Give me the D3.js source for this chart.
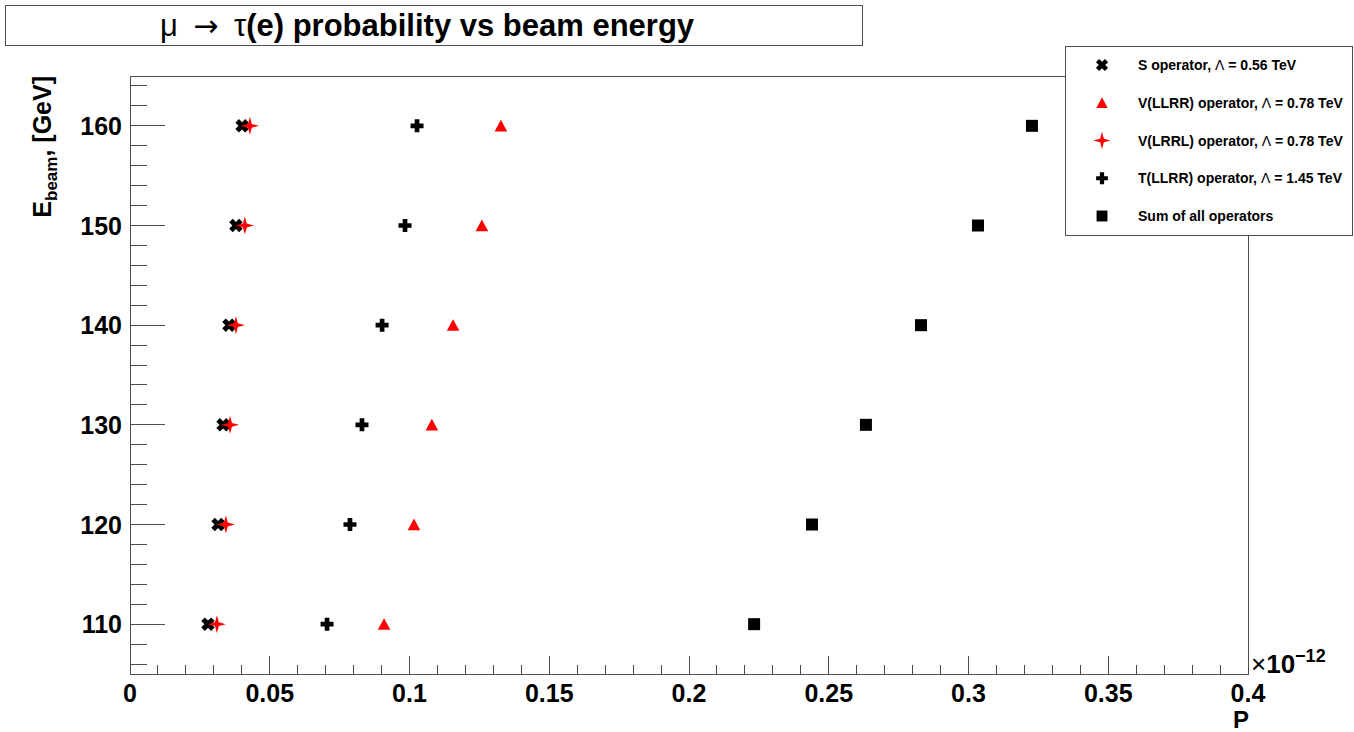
<!DOCTYPE html>
<html>
<head>
<meta charset="utf-8">
<script src="https://cdn.jsdelivr.net/npm/d3@7"></script>
<style>
  body { margin: 0; background: #fff; }
  svg { display: block; font-family: "Liberation Sans", Arial, sans-serif; }
</style>
</head>
<body>
<div id="chart"></div>
<script>
// DATA //
const energies = [110, 120, 130, 140, 150, 160]  // GeV

// probabilities in units of 1e-12
const sOperator = [0.0279, 0.0315, 0.0333, 0.0354, 0.0379, 0.0401]
const vLLRR = [0.0909, 0.1016, 0.1080, 0.1156, 0.1259, 0.1327]
const vLRRL = [0.0311, 0.0343, 0.0358, 0.0379, 0.0411, 0.0429]
const tLLRR = [0.0705, 0.0787, 0.0830, 0.0902, 0.0984, 0.1027]
const sumAll = [0.2233, 0.2440, 0.2633, 0.2830, 0.3034, 0.3227]

const seriesNames = [
    "S operator, |Λ| = 0.56 TeV",
    "V(LLRR) operator, |Λ| = 0.78 TeV",
    "V(LRRL) operator, |Λ| = 0.78 TeV",
    "T(LLRR) operator, |Λ| = 1.45 TeV",
    "Sum of all operators"
]

const xDomain = [0, 0.4]
const yDomain = [105, 165]

// DIMENSIONS //
const width = 1354
const height = 732
const frame = { left: 130, right: 1248, top: 76, bottom: 674 }

const xScale = d3.scaleLinear().domain(xDomain).range([frame.left, frame.right])
const yScale = d3.scaleLinear().domain(yDomain).range([frame.bottom, frame.top])

const axisColor = "#4d4d4d"

// custom marker shapes (ROOT-like)
const fullCross = {
    draw(ctx, size) {
        const r = Math.sqrt(size) / 2, w = r * 0.36
        ctx.moveTo(-r, -w); ctx.lineTo(-w, -w); ctx.lineTo(-w, -r)
        ctx.lineTo(w, -r); ctx.lineTo(w, -w); ctx.lineTo(r, -w)
        ctx.lineTo(r, w); ctx.lineTo(w, w); ctx.lineTo(w, r)
        ctx.lineTo(-w, r); ctx.lineTo(-w, w); ctx.lineTo(-r, w)
        ctx.closePath()
    }
}
const fourStar = {
    draw(ctx, size) {
        const r = Math.sqrt(size) / 2, ri = r * 0.3
        for (let i = 0; i < 8; i++) {
            const a = i * Math.PI / 4
            const rr = i % 2 === 0 ? r : ri
            const px = rr * Math.cos(a), py = rr * Math.sin(a)
            if (i === 0) ctx.moveTo(px, py); else ctx.lineTo(px, py)
        }
        ctx.closePath()
    }
}
const triangleUp = {
    draw(ctx, size) {
        const r = Math.sqrt(size) / 2
        ctx.moveTo(0, -r); ctx.lineTo(r * 1.05, r * 0.95); ctx.lineTo(-r * 1.05, r * 0.95)
        ctx.closePath()
    }
}
const square = {
    draw(ctx, size) {
        const r = Math.sqrt(size) / 2
        ctx.rect(-r, -r, 2 * r, 2 * r)
    }
}

const seriesList = [
    { name: seriesNames[0], values: sOperator, color: "#000", shape: fullCross, size: 14 * 14, rotate: 45 },
    { name: seriesNames[1], values: vLLRR, color: "#ff0000", shape: triangleUp, size: 12 * 12, rotate: 0 },
    { name: seriesNames[2], values: vLRRL, color: "#ff0000", shape: fourStar, size: 18 * 18, rotate: 0 },
    { name: seriesNames[3], values: tLLRR, color: "#000", shape: fullCross, size: 13 * 13, rotate: 0 },
    { name: seriesNames[4], values: sumAll, color: "#000", shape: square, size: 12 * 12, rotate: 0 },
]

const svg = d3.select("#chart").append("svg")
    .attr("width", width)
    .attr("height", height)

svg.append("rect").attr("width", width).attr("height", height).attr("fill", "#fff")

// FRAME //
svg.append("rect")
    .attr("x", frame.left).attr("y", frame.top)
    .attr("width", frame.right - frame.left)
    .attr("height", frame.bottom - frame.top)
    .attr("fill", "none")
    .attr("stroke", axisColor)
    .attr("stroke-width", 1)
    .attr("shape-rendering", "crispEdges")

// x ticks
const ticksG = svg.append("g").attr("stroke", axisColor).attr("shape-rendering", "crispEdges")
ticksG.selectAll(".xminor").data(xScale.ticks(40)).join("line")
    .attr("x1", d => xScale(d)).attr("x2", d => xScale(d))
    .attr("y1", frame.bottom).attr("y2", frame.bottom - 9)
ticksG.selectAll(".xmajor").data(xScale.ticks(8)).join("line")
    .attr("x1", d => xScale(d)).attr("x2", d => xScale(d))
    .attr("y1", frame.bottom).attr("y2", frame.bottom - 18)

// y ticks
ticksG.selectAll(".yminor").data(yScale.ticks(30)).join("line")
    .attr("x1", frame.left).attr("x2", frame.left + 17)
    .attr("y1", d => yScale(d)).attr("y2", d => yScale(d))
ticksG.selectAll(".ymajor").data(yScale.ticks(6)).join("line")
    .attr("x1", frame.left).attr("x2", frame.left + 35)
    .attr("y1", d => yScale(d)).attr("y2", d => yScale(d))

// tick labels
svg.append("g").selectAll("text").data(xScale.ticks(8)).join("text")
    .attr("x", d => xScale(d))
    .attr("y", frame.bottom + 28)
    .attr("text-anchor", "middle")
    .attr("font-size", 25)
    .attr("font-weight", "bold")
    .text(d => String(+d.toFixed(2)))

svg.append("g").selectAll("text").data(yScale.ticks(6)).join("text")
    .attr("x", frame.left - 8)
    .attr("y", d => yScale(d) + 9)
    .attr("text-anchor", "end")
    .attr("font-size", 25)
    .attr("font-weight", "bold")
    .text(d => d)

// exponent
const expo = svg.append("text")
    .attr("x", frame.right + 3)
    .attr("y", frame.bottom - 1)
    .attr("font-size", 26)
expo.append("tspan").text("×")
expo.append("tspan").attr("font-weight", "bold").text("10")
expo.append("tspan").attr("font-weight", "bold").attr("font-size", 18).attr("dy", -11).text("−12")

// axis titles
svg.append("text")
    .attr("x", frame.right + 1)
    .attr("y", 728)
    .attr("text-anchor", "end")
    .attr("font-size", 24)
    .attr("font-weight", "bold")
    .text("P")

const yTitle = svg.append("text")
    .attr("transform", `translate(51, ${frame.top}) rotate(-90)`)
    .attr("text-anchor", "end")
    .attr("font-size", 25)
    .attr("font-weight", "bold")
yTitle.append("tspan").text("E")
yTitle.append("tspan").attr("font-size", 17).attr("dy", 6).text("beam")
yTitle.append("tspan").attr("dy", -6).text(", [GeV]")

// MARKERS //
const symbolFor = s => d3.symbol().type(s.shape).size(s.size)

seriesList.forEach(s => {
    svg.append("g").selectAll("path")
        .data(s.values.map((v, i) => ({ x: v, y: energies[i] })))
        .join("path")
        .attr("d", symbolFor(s))
        .attr("transform", d => `translate(${xScale(d.x)},${yScale(d.y)}) rotate(${s.rotate})`)
        .attr("fill", s.color)
})

// TITLE //
svg.append("rect")
    .attr("x", 5.5).attr("y", 5.5)
    .attr("width", 857).attr("height", 40)
    .attr("fill", "#fff")
    .attr("stroke", axisColor)

const title = svg.append("text")
    .attr("x", 427)
    .attr("y", 36)
    .attr("text-anchor", "middle")
    .attr("font-size", 31)
title.append("tspan").text("μ\u2002")
title.append("tspan").attr("font-family", "DejaVu Sans").attr("font-size", 30).text("→")
title.append("tspan").text("\u2002τ")
title.append("tspan").attr("font-weight", "bold").text("(e) probability vs beam energy")

// LEGEND //
const legend = svg.append("g")
legend.append("rect")
    .attr("x", 1065.5).attr("y", 46.5)
    .attr("width", 287).attr("height", 189)
    .attr("fill", "#fff")
    .attr("stroke", axisColor)

const legendY = d3.scalePoint().domain(d3.range(seriesList.length)).range([65, 216])

seriesList.forEach((s, i) => {
    const scaleDown = s.shape === fourStar ? 0.95 : 0.82
    legend.append("path")
        .attr("d", d3.symbol().type(s.shape).size(s.size * scaleDown)())
        .attr("transform", `translate(1102,${legendY(i)}) rotate(${s.rotate})`)
        .attr("fill", s.color)
    const t = legend.append("text")
        .attr("x", 1138)
        .attr("y", legendY(i) + 5)
        .attr("font-size", 14)
        .attr("font-weight", "bold")
    s.name.split("|").forEach((part, k) => {
        t.append("tspan")
            .attr("font-weight", k === 1 ? "normal" : "bold")
            .text(part)
    })
})
</script>
</body>
</html>
